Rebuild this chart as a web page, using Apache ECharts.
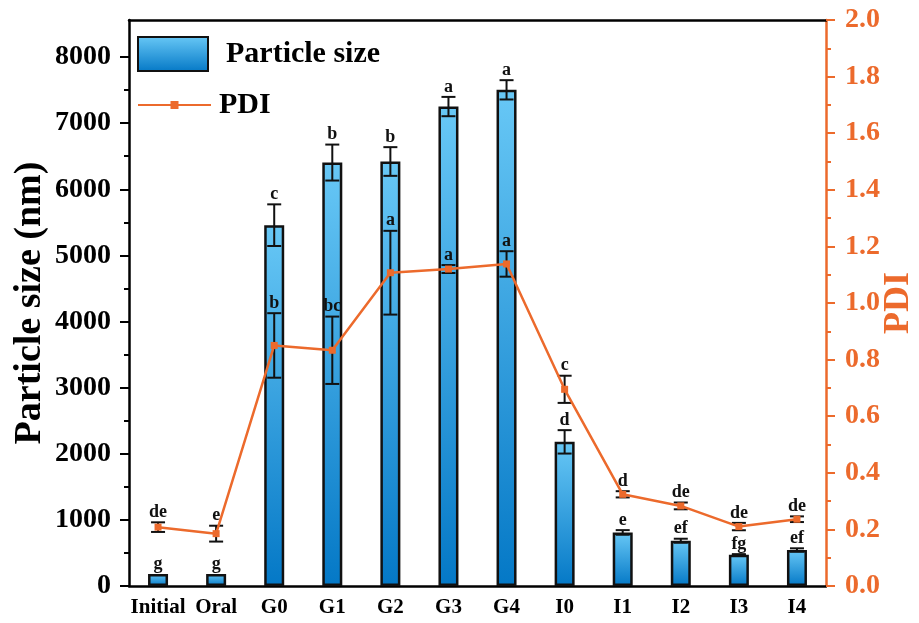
<!DOCTYPE html>
<html>
<head>
<meta charset="utf-8">
<script src="https://cdn.jsdelivr.net/npm/echarts@6/dist/echarts.min.js"></script>
<style>
html,body{margin:0;padding:0;background:#fff;}
#chart{width:919px;height:623px;}
</style>
</head>
<body>
<div id="chart"></div>
<script>
const categories = ['Initial','Oral','G0','G1','G2','G3','G4','I0','I1','I2','I3','I4'];
const sizeMean = [182, 182, 5457, 6404, 6420, 7251, 7504, 2180, 810, 685, 474, 545];
const sizeErr = [0, 0, 315, 272, 217, 146, 146, 177, 35, 30, 8, 25];
const sizeLetters = ['g','g','c','b','b','a','a','d','e','ef','fg','ef'];
const pdiMean = [0.208, 0.185, 0.850, 0.833, 1.107, 1.120, 1.138, 0.695, 0.324, 0.283, 0.210, 0.236];
const pdiErr = [0.017, 0.028, 0.114, 0.119, 0.148, 0.014, 0.045, 0.048, 0.011, 0.012, 0.013, 0.010];
const pdiLetters = ['de','e','b','bc','a','a','a','c','d','de','de','de'];
const leftTicks = [0,1000,2000,3000,4000,5000,6000,7000,8000];
const leftMinorTicks = [500,1500,2500,3500,4500,5500,6500,7500];

const FONT = 'Liberation Serif';
const ORANGE = '#ec6a2c';

function errRender(means, errs, letters) {
  return function (params, api) {
    const i = params.dataIndex;
    const m = means[i], e = errs[i];
    const top = api.coord([i, m + e]);
    const bot = api.coord([i, m - e]);
    const x = top[0];
    const half = 7;
    const children = [];
    const ls = { stroke: '#111', lineWidth: 2 };
    if (e > 0) {
      children.push({ type: 'line', shape: { x1: x, y1: top[1], x2: x, y2: bot[1] }, style: ls });
      children.push({ type: 'line', shape: { x1: x - half, y1: top[1], x2: x + half, y2: top[1] }, style: ls });
      children.push({ type: 'line', shape: { x1: x - half, y1: bot[1], x2: x + half, y2: bot[1] }, style: ls });
    }
    children.push({
      type: 'text',
      style: {
        text: letters[i], x: x, y: top[1] - 1,
        align: 'center', verticalAlign: 'bottom',
        font: 'bold 18px "' + FONT + '"', fill: '#111'
      }
    });
    return { type: 'group', children: children };
  };
}

const chart = echarts.init(document.getElementById('chart'), null, { renderer: 'canvas' });
chart.setOption({
  backgroundColor: '#fff',
  animation: false,
  textStyle: { fontFamily: FONT },
  grid: { left: 129, right: 93, top: 20, bottom: 37, containLabel: false, outerBoundsMode: 'none' },
  legend: [
    {
      data: [{ name: 'Particle size', icon: 'rect' }], left: 137, top: 36, padding: 0,
      itemWidth: 70, itemHeight: 34,
      textStyle: { fontFamily: FONT, fontSize: 30, fontWeight: 'bold', color: '#000', padding: [0, 0, 0, 13] }
    },
    {
      data: ['PDI'], left: 137, top: 90, padding: 0,
      itemWidth: 73, itemHeight: 10,
      textStyle: { fontFamily: FONT, fontSize: 30, fontWeight: 'bold', color: '#000', padding: [0, 0, 0, 3] }
    }
  ],
  xAxis: [
    {
      type: 'category', data: categories, position: 'bottom',
      axisLine: { onZero: false, lineStyle: { color: '#000', width: 2.5 } },
      axisTick: { alignWithLabel: true, length: 9, lineStyle: { color: '#000', width: 2 } },
      axisLabel: { interval: 0, margin: 11, color: '#000', fontFamily: FONT, fontSize: 21, fontWeight: 'bold' },
      splitLine: { show: false }
    },
    {
      type: 'category', data: categories, position: 'top',
      axisLine: { onZero: false, lineStyle: { color: '#000', width: 2.5 } },
      axisTick: { show: false }, axisLabel: { show: false }, splitLine: { show: false }
    }
  ],
  yAxis: [
    {
      type: 'value', position: 'left', min: 0, max: 8560,
      name: 'Particle size (nm)', nameLocation: 'middle', nameGap: 80, nameMoveOverlap: false,
      nameTextStyle: { fontFamily: FONT, fontSize: 38, fontWeight: 'bold', color: '#000' },
      axisLine: { show: true, onZero: false, lineStyle: { color: '#000', width: 2.5 } },
      axisTick: { show: true, length: 9, customValues: leftTicks, lineStyle: { color: '#000', width: 2 } },
      axisLabel: { customValues: leftTicks, margin: 18, color: '#000', fontFamily: FONT, fontSize: 28, fontWeight: 'bold',
                   formatter: v => String(v) },
      splitLine: { show: false }
    },
    {
      type: 'value', position: 'right', min: 0, max: 2, interval: 0.2,
      name: 'PDI', nameLocation: 'middle', nameGap: 55, nameMoveOverlap: false,
      nameTextStyle: { fontFamily: FONT, fontSize: 36, fontWeight: 'bold', color: ORANGE },
      axisLine: { show: true, onZero: false, lineStyle: { color: ORANGE, width: 2.5 } },
      axisTick: { show: true, length: 9, lineStyle: { color: ORANGE, width: 2 } },
      minorTick: { show: true, splitNumber: 2, length: 5, lineStyle: { color: ORANGE, width: 2 } },
      axisLabel: { margin: 19, color: ORANGE, fontFamily: FONT, fontSize: 28, fontWeight: 'bold',
                   formatter: v => v.toFixed(1) },
      splitLine: { show: false }, minorSplitLine: { show: false }
    },
    {
      type: 'value', position: 'left', min: 0, max: 8560,
      axisLine: { show: false },
      axisTick: { show: true, length: 5, customValues: leftMinorTicks, lineStyle: { color: '#000', width: 2 } },
      axisLabel: { show: false }, splitLine: { show: false }
    }
  ],
  series: [
    {
      name: 'Particle size', type: 'bar', data: sizeMean, xAxisIndex: 0, yAxisIndex: 0,
      barWidth: 20, z: 2,
      itemStyle: {
        color: new echarts.graphic.LinearGradient(0, 0, 0, 1, [
          { offset: 0, color: '#68c8f6' }, { offset: 1, color: '#0478c6' }
        ]),
        borderColor: '#111', borderWidth: 2.5
      }
    },
    {
      name: 'sizeErr', type: 'custom', xAxisIndex: 0, yAxisIndex: 0, z: 4,
      data: sizeMean.map((v, i) => [i, v]),
      renderItem: errRender(sizeMean, sizeErr, sizeLetters)
    },
    {
      name: 'PDI', type: 'line', data: pdiMean, xAxisIndex: 0, yAxisIndex: 1, z: 5,
      symbol: 'rect', symbolSize: 7,
      itemStyle: { color: ORANGE },
      lineStyle: { color: ORANGE, width: 2.5 }
    },
    {
      name: 'pdiErr', type: 'custom', xAxisIndex: 0, yAxisIndex: 1, z: 4,
      data: pdiMean.map((v, i) => [i, v]),
      renderItem: errRender(pdiMean, pdiErr, pdiLetters)
    }
  ]
});
</script>
</body>
</html>
